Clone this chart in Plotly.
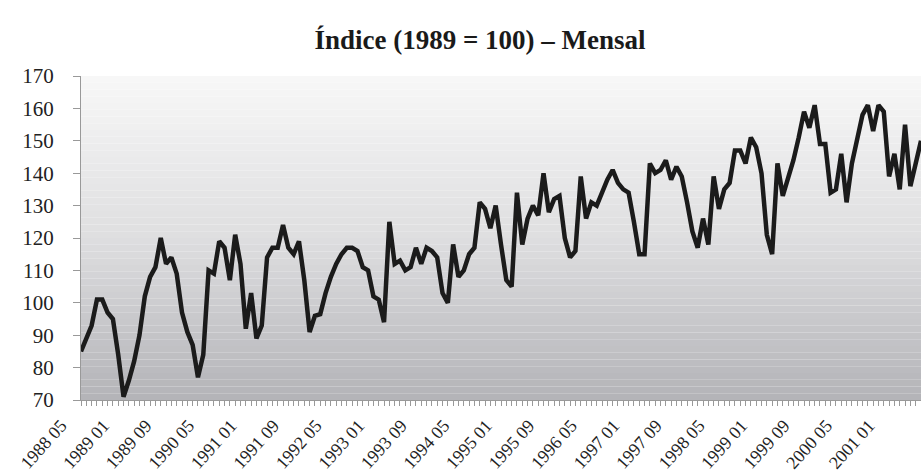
import plotly.graph_objects as go

title_text = "Índice (1989 = 100) – Mensal"

start_year = 1988
start_month = 5

values = [
    85, 89, 93, 101, 101, 97, 95, 84, 71, 76, 82, 90,
    102, 108, 111, 120, 112, 114, 109, 97, 91, 87, 77, 84,
    110, 109, 119, 117, 107, 121, 112, 92, 103, 89, 93, 114,
    117, 117, 124, 117, 115, 119, 107, 91, 96, 96.5, 103, 108,
    112, 115, 117, 117, 116, 111, 110, 102, 101, 94, 125, 112,
    113, 110, 111, 117, 112, 117, 116, 114, 103, 100, 118, 108,
    110, 115, 117, 131, 129, 123, 130, 118, 107, 105, 134, 118,
    126, 130, 127, 140, 128, 132, 133, 120, 114, 116, 139, 126,
    131, 130, 134, 138, 141, 137, 135, 134, 125, 115, 115, 143,
    140, 141, 144, 138, 142, 139, 131, 122, 117, 126, 118, 139,
    129, 135, 137, 147, 147, 143, 151, 148, 140, 121, 115, 143,
    133, 138, 144, 151, 159, 154, 161, 149, 149, 134, 135, 146,
    131, 143, 150, 158, 161, 153, 161, 159, 139, 146, 135, 155,
    136, 143, 150,
]

tick_step = 8
y_ticks = [70, 80, 90, 100, 110, 120, 130, 140, 150, 160, 170]

month_idx = list(range(len(values)))


def label_for(i):
    total = (start_month - 1) + i
    return f"{start_year + total // 12} {total % 12 + 1:02d}"


tickvals = [i for i in month_idx if i % tick_step == 0]
ticktext = [label_for(i) for i in tickvals]

fig = go.Figure()

# gradient background bands (style only)
n_bands = 48
top_c = (247, 247, 247)
mid_c = (222, 222, 224)
bot_c = (180, 180, 184)
for b in range(n_bands):
    t = b / (n_bands - 1)
    if t < 0.5:
        u = t / 0.5
        c = [round(top_c[k] + (mid_c[k] - top_c[k]) * u) for k in range(3)]
    else:
        u = (t - 0.5) / 0.5
        c = [round(mid_c[k] + (bot_c[k] - mid_c[k]) * u) for k in range(3)]
    y1 = 1 - b / n_bands
    y0 = 1 - (b + 1) / n_bands
    fig.add_shape(type="rect", xref="x domain", yref="y domain",
                  x0=0, x1=1, y0=y0, y1=y1, line_width=0,
                  fillcolor=f"rgb({c[0]},{c[1]},{c[2]})", layer="below")

fig.add_trace(go.Scatter(
    x=month_idx, y=values, mode="lines",
    line=dict(color="#1b1b1b", width=4.5),
    hoverinfo="skip", showlegend=False,
))

serif = "Liberation Serif"

W, H = 921, 475
fig.update_layout(
    width=W, height=H,
    margin=dict(l=81, r=0, t=76, b=75, pad=0),
    paper_bgcolor="white", plot_bgcolor="white",
    title=dict(text=title_text, x=480 / W, xanchor="center",
               y=1 - 40 / H, yanchor="middle",
               font=dict(family=serif, size=27, color="#1a1a1a", weight="bold")),
    font=dict(family=serif, color="#222"),
)

fig.update_xaxes(
    range=[0, len(values) - 1], tickvals=tickvals, ticktext=ticktext,
    tickangle=-48, tickfont=dict(family=serif, size=18, color="#222"),
    showline=True, linecolor="#999", linewidth=1,
    ticks="outside", ticklen=5, tickcolor="#999",
    minor=dict(dtick=1, tick0=0, ticks="outside", ticklen=5, tickcolor="#999"),
    showgrid=False, zeroline=False, ticklabelshift=-20, ticklabelstandoff=2,
    automargin=False,
)
fig.update_yaxes(
    range=[70, 170], tickvals=y_ticks,
    tickfont=dict(family=serif, size=21, color="#222"),
    showline=True, linecolor="#999", linewidth=1,
    ticks="outside", ticklen=7, tickcolor="#999",
    showgrid=False, zeroline=False, ticklabelstandoff=15,
    automargin=False,
)

fig.write_html(
    "out.html",
    config={"displayModeBar": False},
    post_script="document.body.style.margin='0';document.body.style.overflow='hidden';",
)
